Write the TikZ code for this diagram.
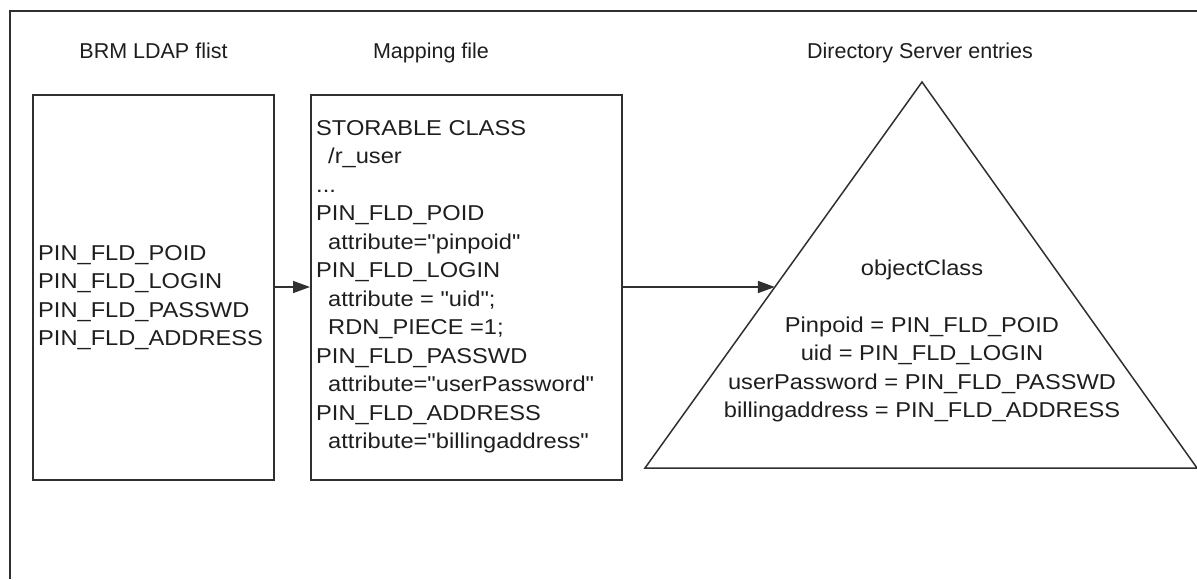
\documentclass[tikz,border=0pt]{standalone}
\usepackage{fontspec}
\setmainfont{Liberation Sans}
\newfontfamily\bodyfam[FakeStretch=1.1]{Liberation Sans}
\usetikzlibrary{arrows.meta,calc}
\definecolor{ink}{HTML}{1E1E1E}
\definecolor{edge}{HTML}{303030}
\begin{document}
\begin{tikzpicture}[x=1pt,y=-1pt,
  titletext/.style={anchor=base, inner sep=0pt, text=ink, font=\fontsize{21.5}{25}\selectfont},
  bodytext/.style={anchor=base west, inner sep=0pt, text=ink, font=\bodyfam\fontsize{21.5}{28.5}\selectfont},
  centertext/.style={anchor=base, inner sep=0pt, text=ink, font=\bodyfam\fontsize{21.5}{28.5}\selectfont},
  boxshape/.style={draw=edge, line width=2pt},
  conn/.style={draw=edge, line width=1.6pt, -{Triangle[length=17pt,width=12pt]}}]
\useasboundingbox (0,0) rectangle (1197,579);
% outer frame (only top and left edges visible)
\draw[edge, line width=2.4pt] (10,579) -- (10,11) -- (1197,11);

% titles
\node[titletext] (t1) at (153.5,58) {BRM LDAP flist};
\node[titletext] (t2) at (431,58) {Mapping file};
\node[titletext] (t3) at (920,58) {Directory Server entries};

% left box
\node[boxshape, minimum width=241pt, minimum height=385pt, inner sep=0pt] (flist) at (153.5,287.5) {};
\node[bodytext] (f1) at (38,260) {PIN\_FLD\_POID};
\node[bodytext] (f2) at (38,288.5) {PIN\_FLD\_LOGIN};
\node[bodytext] (f3) at (38,317) {PIN\_FLD\_PASSWD};
\node[bodytext] (f4) at (38,345.5) {PIN\_FLD\_ADDRESS};

% mapping box
\node[boxshape, minimum width=311pt, minimum height=385pt, inner sep=0pt] (mapfile) at (466.5,287.5) {};
\node[bodytext] (m1)  at (316,135)    {STORABLE CLASS};
\node[bodytext] (m2)  at (328,163.5)  {/r\_user};
\node[bodytext] (m3)  at (316,192)    {...};
\node[bodytext] (m4)  at (316,220.5)  {PIN\_FLD\_POID};
\node[bodytext] (m5)  at (328,249)    {attribute="pinpoid"};
\node[bodytext] (m6)  at (316,277.5)  {PIN\_FLD\_LOGIN};
\node[bodytext] (m7)  at (328,306)    {attribute = "uid";};
\node[bodytext] (m8)  at (328,334.5)  {RDN\_PIECE =1;};
\node[bodytext] (m9)  at (316,363)    {PIN\_FLD\_PASSWD};
\node[bodytext] (m10) at (328,391.5)  {attribute="userPassword"};
\node[bodytext] (m11) at (316,420)    {PIN\_FLD\_ADDRESS};
\node[bodytext] (m12) at (328,448.5)  {attribute="billingaddress"};

% directory triangle
\coordinate (apex) at (922,82);
\coordinate (bl) at (645,468);
\coordinate (br) at (1197,468);
\draw[edge, line width=1.5pt, line join=miter] (bl) -- (apex) -- (br) -- cycle;
\node[centertext] (d0) at (922,275) {objectClass};
\node[centertext] (d1) at (922,332) {Pinpoid = PIN\_FLD\_POID};
\node[centertext] (d2) at (922,360.5) {uid = PIN\_FLD\_LOGIN};
\node[centertext] (d3) at (922,389) {userPassword = PIN\_FLD\_PASSWD};
\node[centertext] (d4) at (922,417.5) {billingaddress = PIN\_FLD\_ADDRESS};
\coordinate (dirin) at ($(apex)!0.5311!(bl)$);

% connectors
\draw[conn] (flist.east |- 0,287) -- (mapfile.west |- 0,287);
\draw[conn] (mapfile.east |- 0,287) -- (dirin);
\end{tikzpicture}
\end{document}
